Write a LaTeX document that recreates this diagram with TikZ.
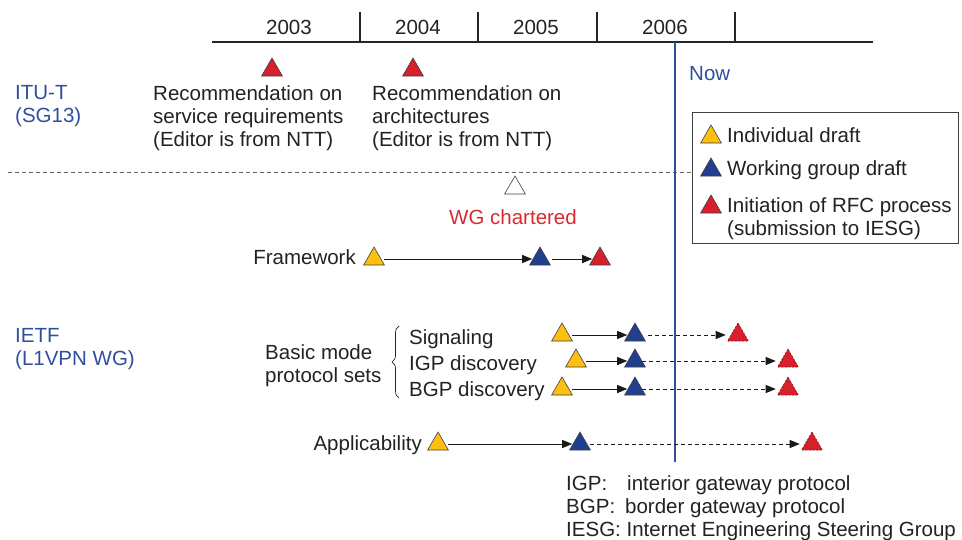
\documentclass[tikz,border=0pt]{standalone}
\usepackage{fontspec}
\setmainfont{Liberation Sans}
\usetikzlibrary{shapes.geometric,arrows.meta,decorations.pathreplacing}
\definecolor{tyellow}{HTML}{FDC010}
\definecolor{tblue}{HTML}{213E8F}
\definecolor{tred}{HTML}{D7202B}
\definecolor{ltblue}{HTML}{2F4E9E}
\definecolor{ltred}{HTML}{D92A2F}
\definecolor{txt}{HTML}{222222}
\begin{document}
\begin{tikzpicture}[x=1pt,y=-1pt,
  every node/.style={font=\fontsize{20.5}{23}\selectfont, text=txt},
  lbl/.style={inner sep=0pt, align=left},
  tri/.style={regular polygon, regular polygon sides=3, minimum size=24pt, inner sep=0pt, draw=black!75, line width=0.6pt},
  ytri/.style={tri, fill=tyellow},
  btri/.style={tri, fill=tblue},
  rtri/.style={tri, fill=tred},
  rtrid/.style={tri, fill=tred, draw=tred!60!black, dash pattern=on 2pt off 1.5pt},
  wtri/.style={tri, fill=white},
  arr/.style={-{Triangle[length=10pt,width=8pt]}, line width=0.8pt, draw=black!90, shorten <=3pt, shorten >=0.5pt},
  darr/.style={arr, dash pattern=on 4pt off 3pt},
]
\useasboundingbox (0,0) rectangle (962,539);

% timeline
\coordinate (tlL) at (212,42);
\coordinate (tlR) at (873,42);
\draw[line width=2pt, black!85] (tlL) -- (tlR);
\foreach \x/\n in {360/a,478/b,597/c,735/d}{
  \coordinate (tk\n t) at (\x,12);
  \coordinate (tk\n b) at (\x,42);
  \draw[line width=1.8pt, black!85] (tk\n t) -- (tk\n b);
}
\node[lbl, anchor=base] (y2003) at (289,34) {2003};
\node[lbl, anchor=base] (y2004) at (418,34) {2004};
\node[lbl, anchor=base] (y2005) at (536,34) {2005};
\node[lbl, anchor=base] (y2006) at (665,34) {2006};

% separator
\coordinate (sepL) at (8,172);
\coordinate (sepR) at (692,172);
\draw[black!60, line width=0.8pt, dash pattern=on 4pt off 3pt] (sepL) -- (sepR);

% now line
\coordinate (nowT) at (675,42);
\coordinate (nowB) at (675,462);
\draw[ltblue, line width=2pt] (nowT) -- (nowB);
\node[lbl, anchor=base west, text=ltblue] (now) at (689,80) {Now};

% ITU-T
\node[lbl, anchor=north west, text=ltblue] (itu) at (15,85) {ITU-T\\(SG13)};
\node[rtri] (r1) at (272,70) {};
\node[rtri] (r2) at (413,70) {};
\node[lbl, anchor=north west] (rec1) at (153,85) {Recommendation on\\service requirements\\(Editor is from NTT)};
\node[lbl, anchor=north west] (rec2) at (372,85) {Recommendation on\\architectures\\(Editor is from NTT)};

% WG chartered
\node[wtri] (wg) at (515,188) {};
\node[lbl, anchor=base, text=ltred] (wgl) at (513,224) {WG chartered};

% Framework
\node[lbl, anchor=base east] (fw) at (356,264) {Framework};
\node[ytri] (fwy) at (374,259) {};
\node[btri] (fwb) at (540,259) {};
\node[rtri] (fwr) at (600,259) {};
\draw[arr] (fwy) -- (fwb);
\draw[arr, shorten <=5pt] (fwb) -- (fwr);

% IETF
\node[lbl, anchor=north west, text=ltblue] (ietf) at (15,328) {\fontsize{20.5}{24}\selectfont IETF\\(L1VPN WG)};
\node[lbl, anchor=north west] (basic) at (265,344) {Basic mode\\protocol sets};
\coordinate (brB) at (399,398);
\coordinate (brT) at (399,326);
\draw[decorate, decoration={brace, amplitude=7pt}, line width=0.7pt, black!85] (brB) -- (brT);
\node[lbl, anchor=base west] (sig) at (409,344) {Signaling};
\node[lbl, anchor=base west] (igp) at (409,370) {IGP discovery};
\node[lbl, anchor=base west] (bgp) at (409,396) {BGP discovery};

\node[ytri] (sy) at (562,335) {};
\node[btri] (sb) at (635,335) {};
\node[rtrid] (sr) at (738,335) {};
\draw[arr] (sy) -- (sb);
\draw[darr, shorten <=6pt, shorten >=5pt] (sb) -- (sr);

\node[ytri] (iy) at (576,361) {};
\node[btri] (ib) at (635,361) {};
\node[rtrid] (ir) at (788,361) {};
\draw[arr] (iy) -- (ib);
\draw[darr, shorten <=0pt, shorten >=5pt] (ib) -- (ir);

\node[ytri] (by) at (562,389) {};
\node[btri] (bb) at (635,389) {};
\node[rtrid] (br) at (788,389) {};
\draw[arr] (by) -- (bb);
\draw[darr, shorten <=0pt, shorten >=5pt] (bb) -- (br);

% Applicability
\node[lbl, anchor=base east] (app) at (422,450) {Applicability};
\node[ytri] (ay) at (438,444) {};
\node[btri] (ab) at (580,444) {};
\node[rtrid] (ar) at (812,444) {};
\draw[arr] (ay) -- (ab);
\draw[darr, shorten <=3pt, shorten >=5pt] (ab) -- (ar);

% footer
\node[lbl, anchor=north west] (foot) at (566,475) {\fontsize{20.5}{22}\selectfont
  \makebox[61pt][l]{IGP:}interior gateway protocol\\
  \makebox[59pt][l]{BGP:}border gateway protocol\\
  IESG: Internet Engineering Steering Group};

% legend
\node[draw=black!75, line width=0.7pt, fill=white, minimum width=266pt, minimum height=131pt, inner sep=0pt, anchor=north west] (leg) at (692,112) {};
\node[ytri] (ly) at (711,137) {};
\node[btri] (lb) at (711,170) {};
\node[rtri] (lr) at (711,207) {};
\node[lbl, anchor=base west] (lyt) at (727,142) {Individual draft};
\node[lbl, anchor=base west] (lbt) at (727,175) {Working group draft};
\node[lbl, anchor=north west] (lrt) at (727,197) {\fontsize{20.5}{24}\selectfont Initiation of RFC process\\(submission to IESG)};
\end{tikzpicture}
\end{document}
